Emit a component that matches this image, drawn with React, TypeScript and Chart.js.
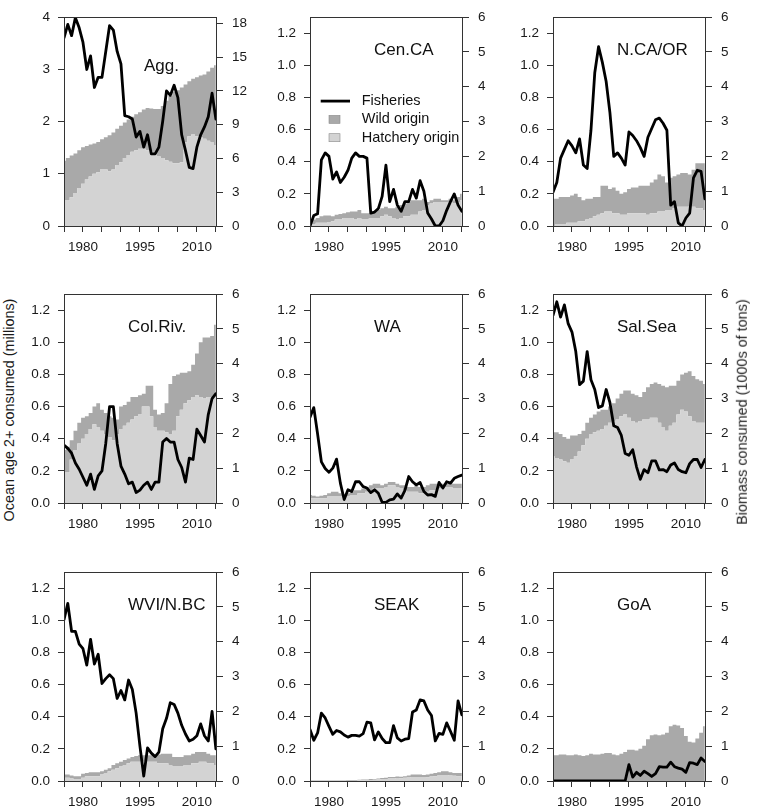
import React, { useEffect, useRef } from 'react';
import { Chart, registerables } from 'chart.js';

Chart.register(...registerables);

const FONT = '"Liberation Sans", Arial, sans-serif';
const HATCH = '#d3d3d3';
const WILD = '#a9a9a9';
const AXIS = '#333333';
const TEXT = '#1a1a1a';

// survey years, one value per year in every series below
const years = [
    1975, 1976, 1977, 1978, 1979, 1980, 1981, 1982, 1983, 1984,
    1985, 1986, 1987, 1988, 1989, 1990, 1991, 1992, 1993, 1994,
    1995, 1996, 1997, 1998, 1999, 2000, 2001, 2002, 2003, 2004,
    2005, 2006, 2007, 2008, 2009, 2010, 2011, 2012, 2013, 2014,
    2015,
];
const labelledYears = [1980, 1995, 2010];

// hatchery = top of light band, total = top of wild band (millions), fisheries = 1000s of tons
const aggHatchery = [0.49, 0.49, 0.55, 0.63, 0.73, 0.81, 0.89, 0.95, 1.0, 1.03, 1.08, 1.08, 1.05, 1.08, 1.17, 1.22, 1.3, 1.36, 1.42, 1.45, 1.48, 1.48, 1.45, 1.42, 1.37, 1.33, 1.3, 1.26, 1.23, 1.2, 1.2, 1.22, 1.6, 1.72, 1.75, 1.72, 1.7, 1.67, 1.63, 1.6, 1.55];
const aggTotal = [1.25, 1.3, 1.35, 1.39, 1.45, 1.51, 1.53, 1.56, 1.58, 1.61, 1.66, 1.7, 1.74, 1.79, 1.86, 1.92, 1.98, 2.04, 2.09, 2.14, 2.18, 2.23, 2.26, 2.25, 2.24, 2.24, 2.3, 2.4, 2.49, 2.57, 2.6, 2.65, 2.71, 2.77, 2.82, 2.85, 2.88, 2.9, 2.96, 3.03, 3.08];
const aggFisheries = [16.7, 17.9, 16.9, 18.5, 17.6, 16.3, 13.9, 15.1, 12.3, 13.2, 13.2, 15.5, 17.8, 17.4, 15.5, 14.4, 9.8, 9.7, 9.5, 7.9, 8.4, 7.0, 8.1, 6.4, 6.4, 7.0, 9.3, 12.0, 11.6, 12.5, 11.4, 8.1, 6.7, 5.2, 5.1, 7.0, 8.1, 8.8, 9.7, 11.8, 9.5];

const cenCaHatchery = [0.0, 0.01, 0.02, 0.02, 0.02, 0.025, 0.03, 0.04, 0.04, 0.05, 0.05, 0.05, 0.04, 0.05, 0.04, 0.04, 0.05, 0.05, 0.05, 0.06, 0.07, 0.06, 0.05, 0.04, 0.05, 0.06, 0.06, 0.07, 0.07, 0.09, 0.1, 0.13, 0.14, 0.15, 0.15, 0.15, 0.15, 0.15, 0.14, 0.15, 0.16];
const cenCaTotal = [0.02, 0.04, 0.05, 0.06, 0.065, 0.065, 0.06, 0.07, 0.075, 0.08, 0.085, 0.09, 0.09, 0.1, 0.08, 0.08, 0.08, 0.09, 0.1, 0.11, 0.12, 0.11, 0.11, 0.12, 0.13, 0.14, 0.15, 0.16, 0.16, 0.16, 0.17, 0.15, 0.16, 0.17, 0.17, 0.16, 0.16, 0.17, 0.16, 0.18, 0.2];
const cenCaFisheries = [0.0, 0.3, 0.35, 1.9, 2.1, 2.0, 1.35, 1.55, 1.25, 1.4, 1.6, 1.95, 2.1, 2.0, 2.0, 1.95, 0.37, 0.4, 0.5, 0.85, 1.75, 0.7, 1.05, 0.6, 0.42, 0.7, 0.7, 1.05, 0.8, 1.3, 1.0, 0.37, 0.2, 0.0, 0.0, 0.15, 0.45, 0.7, 0.92, 0.6, 0.42];

const nCaOrHatchery = [0.0, 0.01, 0.01, 0.01, 0.02, 0.02, 0.02, 0.03, 0.03, 0.04, 0.05, 0.06, 0.07, 0.08, 0.09, 0.09, 0.08, 0.08, 0.07, 0.07, 0.08, 0.08, 0.08, 0.08, 0.08, 0.07, 0.08, 0.08, 0.09, 0.09, 0.1, 0.1, 0.11, 0.12, 0.12, 0.12, 0.12, 0.12, 0.11, 0.11, 0.1];
const nCaOrTotal = [0.17, 0.17, 0.18, 0.18, 0.18, 0.19, 0.2, 0.18, 0.16, 0.17, 0.17, 0.18, 0.18, 0.25, 0.25, 0.23, 0.24, 0.22, 0.2, 0.21, 0.23, 0.24, 0.24, 0.25, 0.25, 0.25, 0.27, 0.29, 0.32, 0.31, 0.27, 0.3, 0.31, 0.32, 0.33, 0.33, 0.32, 0.35, 0.39, 0.39, 0.39];
const nCaOrFisheries = [0.97, 1.25, 1.95, 2.2, 2.45, 2.3, 2.1, 2.5, 1.75, 1.65, 2.75, 4.4, 5.15, 4.7, 4.15, 3.25, 2.0, 2.1, 1.95, 1.75, 2.7, 2.6, 2.45, 2.25, 2.0, 2.55, 2.8, 3.05, 3.1, 2.95, 2.75, 0.6, 0.7, 0.09, 0.0, 0.23, 0.37, 1.38, 1.6, 1.57, 0.78];

const colRivHatchery = [0.19, 0.19, 0.27, 0.33, 0.37, 0.4, 0.43, 0.46, 0.49, 0.47, 0.45, 0.43, 0.41, 0.39, 0.43, 0.46, 0.48, 0.5, 0.52, 0.54, 0.55, 0.6, 0.6, 0.54, 0.47, 0.45, 0.45, 0.44, 0.43, 0.45, 0.54, 0.58, 0.62, 0.64, 0.66, 0.67, 0.66, 0.65, 0.66, 0.66, 0.66];
const colRivTotal = [0.33, 0.35, 0.39, 0.45, 0.5, 0.53, 0.54, 0.56, 0.6, 0.62, 0.58, 0.56, 0.54, 0.53, 0.52, 0.6, 0.61, 0.63, 0.66, 0.66, 0.67, 0.68, 0.73, 0.73, 0.58, 0.55, 0.56, 0.62, 0.74, 0.79, 0.8, 0.81, 0.81, 0.82, 0.86, 0.93, 1.0, 1.03, 1.03, 1.04, 1.11];
const colRivFisheries = [1.66, 1.57, 1.43, 1.15, 0.97, 0.74, 0.51, 0.83, 0.39, 0.78, 0.92, 1.71, 2.77, 2.77, 1.71, 1.06, 0.83, 0.55, 0.6, 0.3, 0.37, 0.51, 0.6, 0.39, 0.6, 0.6, 1.75, 1.85, 1.75, 1.75, 1.25, 1.02, 0.6, 1.29, 1.25, 2.12, 1.94, 1.75, 2.54, 3.0, 3.14];

const waHatchery = [0.03, 0.03, 0.03, 0.03, 0.03, 0.04, 0.04, 0.04, 0.04, 0.03, 0.04, 0.05, 0.05, 0.06, 0.06, 0.07, 0.08, 0.09, 0.09, 0.09, 0.1, 0.11, 0.11, 0.1, 0.09, 0.08, 0.07, 0.07, 0.07, 0.06, 0.06, 0.07, 0.08, 0.08, 0.09, 0.09, 0.1, 0.1, 0.09, 0.09, 0.09];
const waTotal = [0.05, 0.045, 0.04, 0.045, 0.05, 0.06, 0.07, 0.07, 0.06, 0.05, 0.06, 0.07, 0.08, 0.08, 0.09, 0.1, 0.11, 0.12, 0.12, 0.11, 0.12, 0.13, 0.13, 0.12, 0.11, 0.11, 0.1, 0.1, 0.11, 0.1, 0.1, 0.11, 0.12, 0.12, 0.12, 0.12, 0.12, 0.13, 0.12, 0.12, 0.12];
const waFisheries = [2.46, 2.74, 1.98, 1.18, 0.99, 0.88, 1.0, 1.26, 0.57, 0.1, 0.38, 0.33, 0.61, 0.61, 0.47, 0.43, 0.3, 0.38, 0.28, 0.02, 0.02, 0.09, 0.11, 0.26, 0.14, 0.36, 0.76, 0.61, 0.52, 0.59, 0.33, 0.23, 0.24, 0.19, 0.59, 0.43, 0.61, 0.57, 0.71, 0.76, 0.8];

const salSeaHatchery = [0.29, 0.28, 0.27, 0.26, 0.25, 0.27, 0.29, 0.32, 0.36, 0.4, 0.43, 0.44, 0.45, 0.46, 0.48, 0.5, 0.51, 0.52, 0.54, 0.55, 0.53, 0.51, 0.5, 0.51, 0.52, 0.52, 0.53, 0.53, 0.5, 0.47, 0.45, 0.48, 0.5, 0.55, 0.58, 0.57, 0.54, 0.51, 0.5, 0.5, 0.5];
const salSeaTotal = [0.44, 0.44, 0.43, 0.41, 0.4, 0.42, 0.42, 0.43, 0.45, 0.5, 0.53, 0.55, 0.57, 0.58, 0.58, 0.6, 0.62, 0.65, 0.68, 0.7, 0.7, 0.68, 0.67, 0.66, 0.69, 0.72, 0.74, 0.75, 0.74, 0.73, 0.72, 0.73, 0.73, 0.76, 0.8, 0.81, 0.82, 0.79, 0.77, 0.76, 0.74];
const salSeaFisheries = [5.39, 5.78, 5.34, 5.69, 5.15, 4.91, 4.35, 3.4, 3.5, 4.35, 3.54, 3.26, 2.74, 2.79, 3.26, 2.88, 2.22, 2.17, 1.94, 1.42, 1.37, 1.53, 1.04, 0.68, 0.96, 0.87, 1.21, 1.21, 0.95, 0.96, 0.9, 1.09, 1.15, 0.96, 0.9, 0.87, 1.13, 1.25, 1.25, 1.02, 1.25];

const wviHatchery = [0.02, 0.02, 0.015, 0.01, 0.01, 0.02, 0.03, 0.03, 0.03, 0.03, 0.04, 0.05, 0.06, 0.07, 0.08, 0.09, 0.1, 0.11, 0.12, 0.12, 0.12, 0.12, 0.12, 0.12, 0.12, 0.11, 0.11, 0.11, 0.1, 0.09, 0.09, 0.09, 0.1, 0.1, 0.11, 0.11, 0.12, 0.12, 0.11, 0.11, 0.1];
const wviTotal = [0.04, 0.04, 0.035, 0.03, 0.03, 0.045, 0.05, 0.055, 0.055, 0.055, 0.06, 0.07, 0.08, 0.1, 0.11, 0.12, 0.13, 0.14, 0.15, 0.155, 0.16, 0.16, 0.16, 0.16, 0.16, 0.165, 0.17, 0.17, 0.17, 0.15, 0.15, 0.15, 0.16, 0.16, 0.17, 0.18, 0.18, 0.18, 0.17, 0.16, 0.16];
const wviFisheries = [4.63, 5.1, 4.3, 4.3, 3.93, 3.8, 3.33, 4.07, 3.36, 3.64, 2.8, 2.94, 3.05, 2.94, 2.37, 2.6, 2.33, 2.9, 2.63, 1.95, 1.0, 0.14, 0.95, 0.8, 0.7, 0.83, 1.5, 1.8, 2.25, 2.2, 1.95, 1.6, 1.35, 1.15, 1.2, 1.3, 1.64, 1.3, 1.15, 2.0, 0.92];

const seakHatchery = [0.002, 0.002, 0.002, 0.002, 0.002, 0.002, 0.002, 0.002, 0.002, 0.002, 0.002, 0.002, 0.002, 0.004, 0.005, 0.006, 0.007, 0.008, 0.01, 0.012, 0.013, 0.015, 0.016, 0.018, 0.017, 0.02, 0.022, 0.025, 0.025, 0.025, 0.022, 0.024, 0.028, 0.03, 0.035, 0.038, 0.038, 0.035, 0.032, 0.03, 0.03];
const seakTotal = [0.004, 0.004, 0.004, 0.004, 0.004, 0.004, 0.004, 0.004, 0.004, 0.004, 0.006, 0.006, 0.006, 0.008, 0.01, 0.01, 0.012, 0.012, 0.015, 0.018, 0.02, 0.025, 0.025, 0.028, 0.027, 0.03, 0.035, 0.04, 0.04, 0.04, 0.038, 0.04, 0.045, 0.05, 0.055, 0.06, 0.06, 0.055, 0.05, 0.05, 0.05];
const seakFisheries = [1.48, 1.17, 1.38, 1.95, 1.81, 1.57, 1.34, 1.45, 1.41, 1.32, 1.26, 1.31, 1.31, 1.29, 1.36, 1.69, 1.67, 1.18, 1.41, 1.22, 1.1, 1.1, 1.59, 1.24, 1.15, 1.2, 1.22, 1.98, 2.04, 2.33, 2.3, 2.04, 1.88, 1.15, 1.37, 1.34, 1.67, 1.43, 1.17, 2.3, 1.9];

const goaHatchery = [0, 0, 0, 0, 0, 0, 0, 0, 0, 0, 0, 0, 0, 0, 0, 0, 0, 0, 0, 0, 0, 0, 0, 0, 0, 0, 0, 0, 0, 0, 0, 0, 0, 0, 0, 0, 0, 0, 0, 0, 0];
const goaTotal = [0.16, 0.16, 0.165, 0.165, 0.16, 0.16, 0.165, 0.16, 0.155, 0.16, 0.17, 0.165, 0.165, 0.17, 0.175, 0.175, 0.165, 0.16, 0.17, 0.18, 0.195, 0.195, 0.19, 0.2, 0.22, 0.26, 0.285, 0.29, 0.285, 0.29, 0.3, 0.34, 0.35, 0.345, 0.33, 0.28, 0.245, 0.24, 0.265, 0.3, 0.34];
const goaFisheries = [0, 0, 0, 0, 0, 0, 0, 0, 0, 0, 0, 0, 0, 0, 0, 0, 0, 0, 0, 0, 0.47, 0.11, 0.25, 0.16, 0.28, 0.21, 0.13, 0.21, 0.41, 0.4, 0.4, 0.54, 0.41, 0.37, 0.34, 0.25, 0.53, 0.51, 0.47, 0.66, 0.56];

interface Panel {
    name: string;
    hatchery: number[];
    total: number[];
    fisheries: number[];
    leftMax: number;
    leftStep: number;
    leftDigits: number;
    rightMax: number;
    rightStep: number;
    titleDx: number;
    titleDy: number;
    legend?: boolean;
}

const regional = { leftMax: 1.3, leftStep: 0.2, leftDigits: 1, rightMax: 6, rightStep: 1, titleDx: 64, titleDy: 33.5 };

const panels: Panel[] = [
    { name: 'Agg.', hatchery: aggHatchery, total: aggTotal, fisheries: aggFisheries, leftMax: 4, leftStep: 1, leftDigits: 0, rightMax: 18.55, rightStep: 3, titleDx: 80, titleDy: 49 },
    { ...regional, name: 'Cen.CA', hatchery: cenCaHatchery, total: cenCaTotal, fisheries: cenCaFisheries, legend: true },
    { ...regional, name: 'N.CA/OR', hatchery: nCaOrHatchery, total: nCaOrTotal, fisheries: nCaOrFisheries },
    { ...regional, name: 'Col.Riv.', hatchery: colRivHatchery, total: colRivTotal, fisheries: colRivFisheries },
    { ...regional, name: 'WA', hatchery: waHatchery, total: waTotal, fisheries: waFisheries },
    { ...regional, name: 'Sal.Sea', hatchery: salSeaHatchery, total: salSeaTotal, fisheries: salSeaFisheries },
    { ...regional, name: 'WVI/N.BC', hatchery: wviHatchery, total: wviTotal, fisheries: wviFisheries },
    { ...regional, name: 'SEAK', hatchery: seakHatchery, total: seakTotal, fisheries: seakFisheries },
    { ...regional, name: 'GoA', hatchery: goaHatchery, total: goaTotal, fisheries: goaFisheries },
];

// page layout of the plot boxes
const colLefts = [64, 310, 553];
const rowTops = [12, 289, 567];
const PLOT_W = 153;
const PLOT_H = 214;
const SIDE = 45;
const PAD_TOP = 12;
const X_AXIS_H = 36;

const points = (vals: number[]) => years.map((yr, i) => ({ x: yr, y: vals[i] }));

const overlay = (panel: Panel) => ({
    id: 'overlay',
    afterDraw(chart: Chart) {
        const { ctx, chartArea: a } = chart;
        ctx.save();
        ctx.strokeStyle = AXIS;
        ctx.lineWidth = 1;
        ctx.strokeRect(Math.round(a.left) + 0.5, Math.round(a.top) + 0.5, Math.round(a.right - a.left) - 1, Math.round(a.bottom - a.top));

        ctx.fillStyle = '#111';
        ctx.textAlign = 'left';
        ctx.textBaseline = 'middle';
        ctx.font = `17px ${FONT}`;
        ctx.fillText(panel.name, a.left + panel.titleDx, a.top + panel.titleDy);

        if (panel.legend) {
            const tx = a.left + 51.7;
            ctx.font = `14.5px ${FONT}`;
            ctx.strokeStyle = '#000';
            ctx.lineWidth = 2.8;
            ctx.beginPath();
            ctx.moveTo(a.left + 10.7, a.top + 84);
            ctx.lineTo(a.left + 40, a.top + 84);
            ctx.stroke();
            ctx.fillText('Fisheries', tx, a.top + 84);

            ctx.lineWidth = 0.6;
            ctx.strokeStyle = '#8a8a8a';
            ctx.fillStyle = WILD;
            ctx.fillRect(a.left + 19, a.top + 98.3, 11, 8);
            ctx.strokeRect(a.left + 19, a.top + 98.3, 11, 8);
            ctx.fillStyle = HATCH;
            ctx.fillRect(a.left + 19, a.top + 116.6, 11, 8);
            ctx.strokeRect(a.left + 19, a.top + 116.6, 11, 8);

            ctx.fillStyle = '#111';
            ctx.fillText('Wild origin', tx, a.top + 102.3);
            ctx.fillText('Hatchery origin', tx, a.top + 120.6);
        }
        ctx.restore();
    },
});

const tickFont = { family: FONT, size: 13.5 };

const PanelChart: React.FC<{ panel: Panel; left: number; top: number }> = ({ panel, left, top }) => {
    const canvasRef = useRef<HTMLCanvasElement>(null);

    useEffect(() => {
        if (!canvasRef.current) return;

        const chart = new Chart(canvasRef.current, {
            type: 'line',
            data: {
                datasets: [
                    {
                        label: 'Fisheries',
                        data: points(panel.fisheries),
                        yAxisID: 'y1',
                        borderColor: '#000',
                        borderWidth: 2.8,
                        borderJoinStyle: 'round',
                        borderCapStyle: 'round',
                        pointRadius: 0,
                        fill: false,
                        tension: 0,
                    },
                    {
                        label: 'Hatchery origin',
                        data: points(panel.hatchery),
                        yAxisID: 'y',
                        borderColor: 'rgba(0,0,0,0)',
                        borderWidth: 0,
                        pointRadius: 0,
                        stepped: 'middle',
                        fill: 'origin',
                        backgroundColor: HATCH,
                    },
                    {
                        label: 'Wild origin',
                        data: points(panel.total),
                        yAxisID: 'y',
                        borderColor: 'rgba(0,0,0,0)',
                        borderWidth: 0,
                        pointRadius: 0,
                        stepped: 'middle',
                        fill: '-1',
                        backgroundColor: WILD,
                    },
                ],
            },
            options: {
                animation: false,
                responsive: false,
                maintainAspectRatio: false,
                events: [],
                layout: { padding: { top: PAD_TOP, left: 0, right: 0, bottom: 0 } },
                plugins: {
                    legend: { display: false },
                    tooltip: { enabled: false },
                },
                scales: {
                    x: {
                        type: 'linear',
                        min: 1975,
                        max: 2015.3,
                        afterFit: (s: any) => { s.height = X_AXIS_H; },
                        grid: { display: true, drawOnChartArea: false, drawTicks: true, tickLength: 6, color: AXIS },
                        border: { display: false },
                        ticks: {
                            stepSize: 5,
                            includeBounds: false,
                            autoSkip: false,
                            maxRotation: 0,
                            padding: 7.5,
                            color: TEXT,
                            font: tickFont,
                            callback: (v: any) => (labelledYears.includes(Number(v)) ? String(v) : ''),
                        },
                    },
                    y: {
                        position: 'left',
                        min: 0,
                        max: panel.leftMax,
                        afterFit: (s: any) => { s.width = SIDE; },
                        grid: { display: true, drawOnChartArea: false, drawTicks: true, tickLength: 6, color: AXIS },
                        border: { display: false },
                        ticks: {
                            stepSize: panel.leftStep,
                            includeBounds: false,
                            padding: 8,
                            color: TEXT,
                            font: tickFont,
                            callback: (v: any) => Number(v).toFixed(panel.leftDigits),
                        },
                    },
                    y1: {
                        position: 'right',
                        min: 0,
                        max: panel.rightMax,
                        afterFit: (s: any) => { s.width = SIDE; },
                        grid: { display: true, drawOnChartArea: false, drawTicks: true, tickLength: 6, color: AXIS },
                        border: { display: false },
                        ticks: {
                            stepSize: panel.rightStep,
                            includeBounds: false,
                            padding: 9,
                            color: TEXT,
                            font: tickFont,
                            callback: (v: any) => String(Number(v)),
                        },
                    },
                },
            },
            plugins: [overlay(panel)],
        });

        return () => {
            chart.destroy();
        };
    }, [panel]);

    const w = PLOT_W + 2 * SIDE;
    const h = PLOT_H + PAD_TOP + X_AXIS_H;
    return (
        <canvas
            ref={canvasRef}
            width={w}
            height={h}
            style={{ position: 'absolute', left: left - SIDE, top: top - PAD_TOP, width: w, height: h }}
        />
    );
};

const axisTitle: React.CSSProperties = {
    position: 'absolute',
    whiteSpace: 'nowrap',
    fontFamily: FONT,
    fontSize: 14.4,
    color: TEXT,
    transform: 'translate(-50%, -50%) rotate(-90deg)',
    lineHeight: 1,
};

const App: React.FC = () => {
    return (
        <div style={{ position: 'absolute', left: 0, top: 0, width: 760, height: 808, background: '#fff', overflow: 'hidden' }}>
            {panels.map((p, i) => (
                <PanelChart key={p.name} panel={p} left={colLefts[i % 3]} top={rowTops[Math.floor(i / 3)]} />
            ))}
            <div style={{ ...axisTitle, left: 8.5, top: 410 }}>Ocean age 2+ consumed (millions)</div>
            <div style={{ ...axisTitle, left: 741.5, top: 412 }}>Biomass consumed (1000s of tons)</div>
        </div>
    );
};

export default App;
